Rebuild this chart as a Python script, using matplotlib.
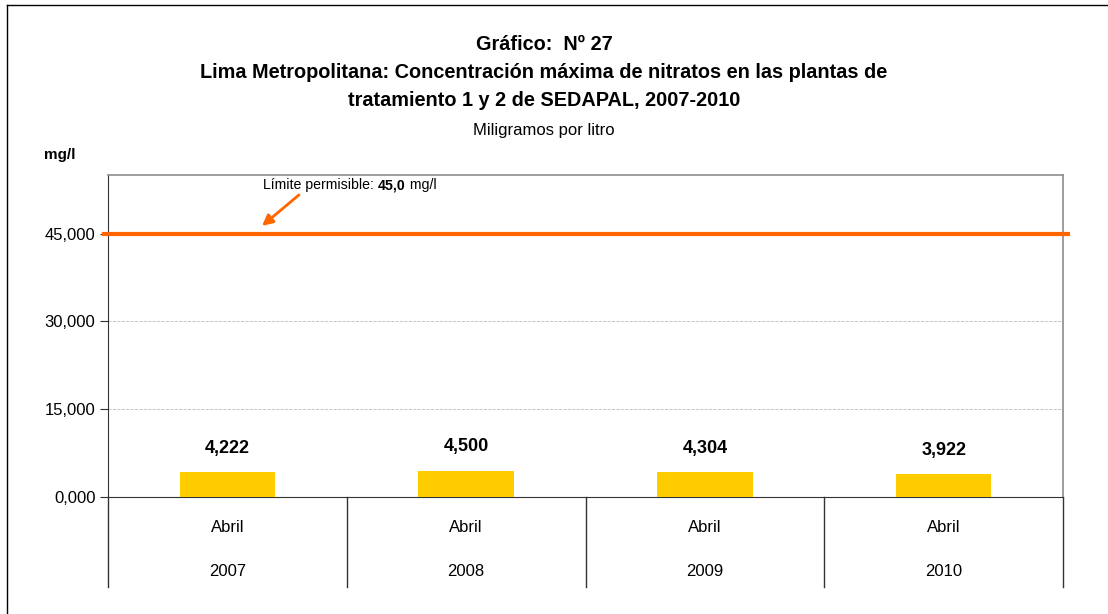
import matplotlib
matplotlib.use("Agg")
import matplotlib.pyplot as plt
from matplotlib.lines import Line2D
import matplotlib.transforms as mtransforms

plt.rcParams["font.family"] = ["Liberation Sans", "DejaVu Sans"]

# ── Data ───────────────────────────────────────────────────────────────────
meses = ["Abril", "Abril", "Abril", "Abril"]
anios = ["2007", "2008", "2009", "2010"]
nitratos = [4.222, 4.500, 4.304, 3.922]   # mg/l
limite = 45.0
yticks = [0, 15, 30, 45]

W, H = 1108, 614
fig = plt.figure(figsize=(W / 100, H / 100), dpi=100)

# plot box in pixels: left 108, right 1063, top 175, zero line 497
ax = fig.add_axes([108 / W, (H - 497) / H, (1063 - 108) / W, (497 - 175) / H])

def fmt(v, d=3):
    return f"{v:.{d}f}".replace(".", ",")

x = list(range(len(nitratos)))
ax.bar(x, nitratos, width=0.4, color="#FFCC00", zorder=3)
for xi, v in zip(x, nitratos):
    ax.text(xi, v + 2.6, fmt(v), ha="center", va="bottom",
            fontsize=13, fontweight="bold", color="black")

ax.set_xlim(-0.5, len(nitratos) - 0.5)
ax.set_ylim(0, 55)
ax.set_yticks(yticks)
ax.set_yticklabels([fmt(t) for t in yticks], fontsize=12)
ax.set_xticks([])
ax.grid(axis="y", color="#BBBBBB", linestyle="--", linewidth=0.6, zorder=0)
ax.tick_params(axis="y", direction="out", length=6, width=0.8, color="#333333", pad=3)

for s in ["top", "right"]:
    ax.spines[s].set_color("#8C8C8C")
    ax.spines[s].set_linewidth(1.2)
ax.spines["left"].set_color("#333333")
ax.spines["bottom"].set_color("#333333")

# limit line (runs slightly past the box)
lim_line = Line2D([-0.515, 3.52], [limite, limite], color="#FF6600",
                  linewidth=3, clip_on=False, zorder=4)
ax.add_line(lim_line)

# two-level category axis
trans = mtransforms.blended_transform_factory(ax.transData, ax.transAxes)
for b in [i - 0.5 for i in range(len(nitratos) + 1)]:
    ax.plot([b, b], [0, -0.28], transform=trans, color="#333333",
            linewidth=1, clip_on=False)
for xi, m, a in zip(x, meses, anios):
    ax.text(xi, -0.095, m, transform=trans, ha="center", va="center", fontsize=12)
    ax.text(xi, -0.23, a, transform=trans, ha="center", va="center", fontsize=12)

# annotation for the limit
ax.annotate("", xy=(0.145, limite + 1.3), xytext=(0.30, 51.6),
            arrowprops=dict(arrowstyle="-|>", color="#FF6600", lw=2,
                            mutation_scale=16, shrinkA=0, shrinkB=0), zorder=5)
t1 = fig.text(263 / W, 1 - 185 / H, "Límite permisible: ", fontsize=10.2,
              ha="left", va="center")
fig.canvas.draw()
r = fig.canvas.get_renderer()
bb = t1.get_window_extent(r)
t2 = fig.text(bb.x1 / W, 1 - 185 / H, "45,0", fontsize=10.2, fontweight="bold",
              ha="left", va="center")
bb2 = t2.get_window_extent(r)
fig.text(bb2.x1 / W, 1 - 185 / H, " mg/l", fontsize=10.2, ha="left", va="center")

# titles
cx = 544 / W
fig.text(cx, 1 - 45 / H, "Gráfico:  Nº 27", ha="center", va="center",
         fontsize=14.3, fontweight="bold")
fig.text(cx, 1 - 73 / H,
         "Lima Metropolitana: Concentración máxima de nitratos en las plantas de",
         ha="center", va="center", fontsize=14.3, fontweight="bold")
fig.text(cx, 1 - 100 / H, "tratamiento 1 y 2 de SEDAPAL, 2007-2010",
         ha="center", va="center", fontsize=14.3, fontweight="bold")
fig.text(cx, 1 - 130 / H, "Miligramos por litro", ha="center", va="center",
         fontsize=12)
fig.text(60 / W, 1 - 155 / H, "mg/l", ha="center", va="center",
         fontsize=11, fontweight="bold")

# outer frame (left and top edges visible)
fig.add_artist(Line2D([7 / W, 7 / W], [0, 1 - 5 / H], transform=fig.transFigure,
                      color="black", linewidth=1))
fig.add_artist(Line2D([7 / W, 1], [1 - 5 / H, 1 - 5 / H], transform=fig.transFigure,
                      color="black", linewidth=1))

fig.savefig("out.png", dpi=100)
plt.close(fig)
